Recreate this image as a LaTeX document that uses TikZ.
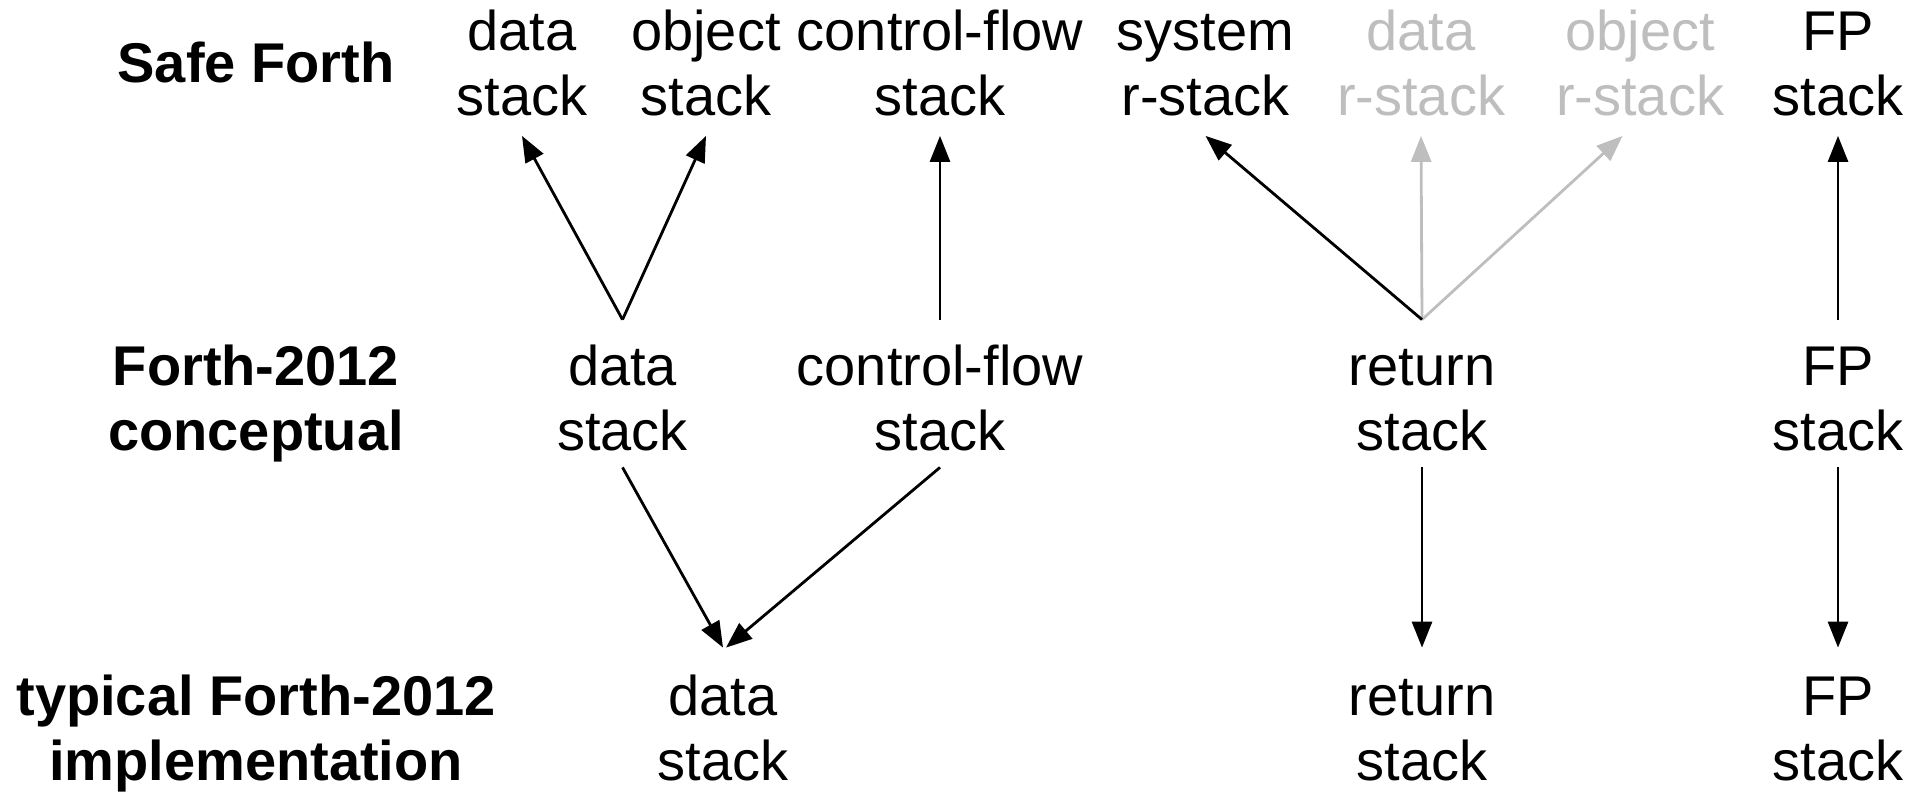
\documentclass[tikz,border=0pt]{standalone}
\usepackage{fontspec}
\setmainfont{Liberation Sans}
\usetikzlibrary{arrows.meta}
\definecolor{lgray}{RGB}{190,190,190}
\begin{document}
\begin{tikzpicture}[x=0.5pt,y=-0.5pt,
  lbl/.style={font=\fontsize{28}{32.5}\selectfont, align=center, inner sep=0pt},
  hdr/.style={font=\fontsize{28}{32.5}\selectfont\bfseries, align=center, inner sep=0pt},
  ghost/.style={lbl, text=lgray},
  conn/.style={line width=1.4pt, -{Triangle[length=13pt,width=10pt]}},
  faint/.style={conn, draw=lgray}]
\useasboundingbox (0,0) rectangle (1926,793);
% row labels
\node[hdr] (lsafe) at (256,69) {\strut Safe Forth};
\node[hdr] (lconc) at (256,405) {\strut Forth-2012\\\strut conceptual};
\node[hdr] (limpl) at (256,735) {\strut typical Forth-2012\\\strut implementation};
% Safe Forth row
\node[lbl] (sdata) at (522,70) {\strut data\\\strut stack};
\node[lbl] (sobj) at (706,70) {\strut object\\\strut stack};
\node[lbl] (scf) at (940,70) {\strut control-flow\\\strut stack};
\node[lbl] (ssys) at (1205.5,70) {\strut system\\\strut r-stack};
\node[ghost] (sdatar) at (1421,70) {\strut data\\\strut r-stack};
\node[ghost] (sobjr) at (1640,70) {\strut object\\\strut r-stack};
\node[lbl] (sfp) at (1838,70) {\strut FP\\\strut stack};
% conceptual row
\node[lbl] (mdata) at (622.5,405) {\strut data\\\strut stack};
\node[lbl] (mcf) at (940,405) {\strut control-flow\\\strut stack};
\node[lbl] (mret) at (1422,405) {\strut return\\\strut stack};
\node[lbl] (mfp) at (1838,405) {\strut FP\\\strut stack};
% implementation row
\node[lbl] (bdata) at (723,735) {\strut data\\\strut stack};
\node[lbl] (bret) at (1422,735) {\strut return\\\strut stack};
\node[lbl] (bfp) at (1838,735) {\strut FP\\\strut stack};
% upward connectors
\draw[conn] ([yshift=10pt]mdata.north) -- ([yshift=-0.25pt]sdata.south);
\draw[conn] ([yshift=10pt]mdata.north) -- ([yshift=-0.25pt]sobj.south);
\draw[conn] ([yshift=10pt]mcf.north) -- ([yshift=-0.25pt]scf.south);
\draw[faint] ([yshift=10pt]mret.north) -- ([yshift=-0.25pt]sdatar.south);
\draw[faint] ([yshift=10pt]mret.north) -- ([xshift=-8.75pt,yshift=-0.25pt]sobjr.south);
\draw[conn] ([yshift=10pt]mret.north) -- ([yshift=-0.25pt]ssys.south);
\draw[conn] ([yshift=10pt]mfp.north) -- ([yshift=-0.25pt]sfp.south);
% downward connectors
\draw[conn] ([yshift=1.5pt]mdata.south) -- ([yshift=11pt]bdata.north);
\draw[conn] ([yshift=1.5pt]mcf.south) -- ([xshift=1.5pt,yshift=11pt]bdata.north);
\draw[conn] ([yshift=1.5pt]mret.south) -- ([yshift=11pt]bret.north);
\draw[conn] ([yshift=1.5pt]mfp.south) -- ([yshift=11pt]bfp.north);
\end{tikzpicture}
\end{document}
